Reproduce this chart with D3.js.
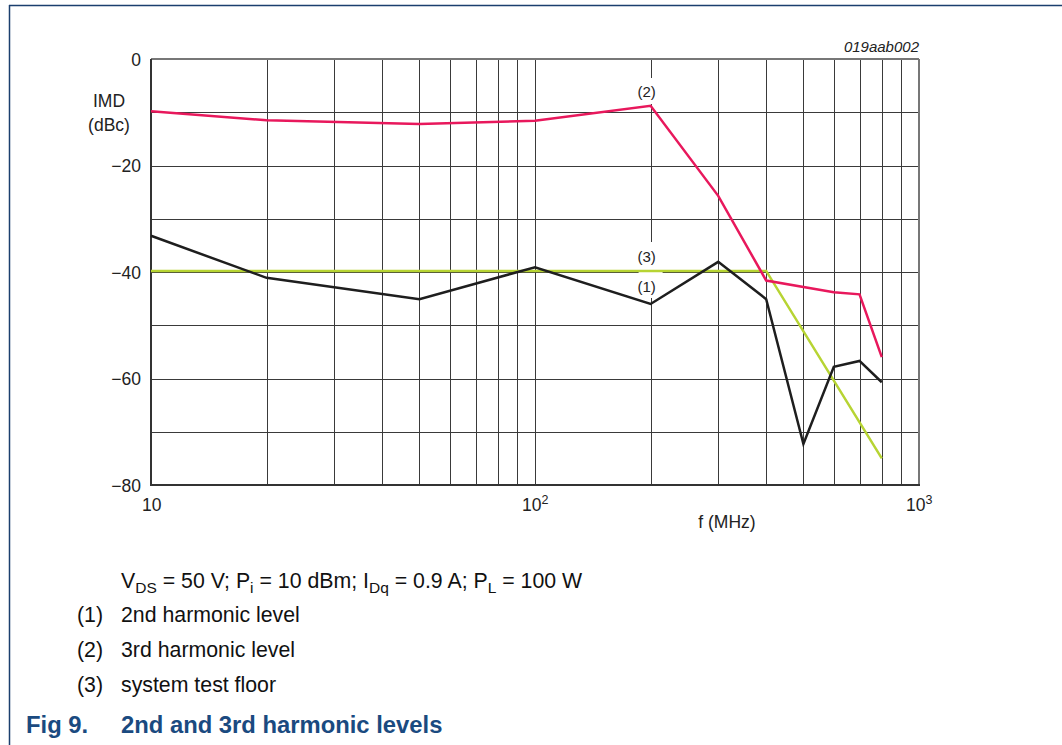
<!DOCTYPE html>
<html>
<head>
<meta charset="utf-8">
<script src="https://cdn.jsdelivr.net/npm/d3@7"></script>
<style>
  html, body { margin: 0; padding: 0; background: #fff; }
  svg { display: block; font-family: "Liberation Sans", Arial, sans-serif; }
</style>
</head>
<body>
<svg id="chart" width="1062" height="745"></svg>
<script>
// Frequency points (MHz) and levels (dBc) for each trace
const freq2nd = [10, 20, 50, 100, 200, 300, 400, 500, 600, 700, 800];
const level2nd = [-33.2, -41.1, -45.1, -39.1, -46.0, -38.1, -45.1, -72.3, -57.8, -56.7, -60.7];

const freq3rd = [10, 20, 50, 100, 200, 300, 400, 600, 700, 800];
const level3rd = [-9.8, -11.5, -12.2, -11.6, -8.8, -25.7, -41.6, -43.8, -44.2, -56.0];

const freqFloor = [10, 400, 800];
const levelFloor = [-39.8, -39.8, -75.0];

// Axis ticks
const yTicks = [0, -20, -40, -60, -80];
const yGrid = [0, -10, -20, -30, -40, -50, -60, -70, -80];
const xGrid = [10, 20, 30, 40, 50, 60, 70, 80, 90, 100, 200, 300, 400, 500, 600, 700, 800, 900, 1000];
const xDecades = [{ v: 10, base: "10", exp: "" }, { v: 100, base: "10", exp: "2" }, { v: 1000, base: "10", exp: "3" }];

// Curve labels
const curveLabels = [
  { text: "(2)", f: 200, ty: 97 },
  { text: "(3)", f: 200, ty: 262 },
  { text: "(1)", f: 200, ty: 292 }
];

const notes = [
  { num: "(1)", text: "2nd harmonic level" },
  { num: "(2)", text: "3rd harmonic level" },
  { num: "(3)", text: "system test floor" }
];

const svg = d3.select("#chart");
const x = d3.scaleLog().domain([10, 1000]).range([151, 919]);
const y = d3.scaleLinear().domain([-80, 0]).range([485, 59]);

const frameBlue = "#1b3f6e";
// Figure frame: top and left rules
svg.append("line").attr("x1", 9).attr("x2", 1062).attr("y1", 5.5).attr("y2", 5.5)
  .attr("stroke", frameBlue).attr("stroke-width", 1.5);
svg.append("line").attr("x1", 9.5).attr("x2", 9.5).attr("y1", 5).attr("y2", 745)
  .attr("stroke", frameBlue).attr("stroke-width", 1.5);

// Grid via axes
const gx = svg.append("g").attr("transform", "translate(0,485)")
  .call(d3.axisBottom(x).tickValues(xGrid).tickSize(-(485 - 59)).tickFormat(""));
gx.select(".domain").remove();
gx.selectAll("line").attr("stroke", "#3a3a3a").attr("stroke-width", 1)
  .attr("shape-rendering", "crispEdges");

const gy = svg.append("g").attr("transform", "translate(151,0)")
  .call(d3.axisLeft(y).tickValues(yGrid).tickSize(-(919 - 151)).tickFormat(""));
gy.select(".domain").remove();
gy.selectAll("line").attr("stroke", "#3a3a3a").attr("stroke-width", 1)
  .attr("shape-rendering", "crispEdges");

// Plot frame
svg.append("line").attr("x1", 919).attr("x2", 919).attr("y1", 59).attr("y2", 485)
  .attr("stroke", "#777").attr("stroke-width", 2);
svg.append("line").attr("x1", 151).attr("x2", 919).attr("y1", 59).attr("y2", 59)
  .attr("stroke", "#777").attr("stroke-width", 2);
svg.append("line").attr("x1", 151).attr("x2", 151).attr("y1", 59).attr("y2", 486)
  .attr("stroke", "#333").attr("stroke-width", 2);
svg.append("line").attr("x1", 150).attr("x2", 920).attr("y1", 485).attr("y2", 485)
  .attr("stroke", "#333").attr("stroke-width", 2);

// Y tick labels
svg.append("g").selectAll("text").data(yTicks).join("text")
  .attr("x", 141).attr("y", d => y(d) + 6.5)
  .attr("text-anchor", "end").attr("font-size", 17.5).attr("fill", "#222")
  .text(d => d === 0 ? "0" : "\u2212" + Math.abs(d));

// Y axis title
svg.append("text").attr("x", 109).attr("y", 107).attr("text-anchor", "middle")
  .attr("font-size", 17.5).attr("fill", "#222").text("IMD");
svg.append("text").attr("x", 109).attr("y", 131).attr("text-anchor", "middle")
  .attr("font-size", 17.5).attr("fill", "#222").text("(dBc)");

// X decade labels
const xl = svg.append("g").selectAll("text").data(xDecades).join("text")
  .attr("x", d => x(d.v) - (d.exp ? 13 : 9)).attr("y", 511)
  .attr("font-size", 17.5).attr("fill", "#222");
xl.append("tspan").text(d => d.base);
xl.append("tspan").attr("font-size", 12.5).attr("dy", -7).text(d => d.exp);

svg.append("text").attr("x", 727).attr("y", 528).attr("text-anchor", "middle")
  .attr("font-size", 17.5).attr("fill", "#222").text("f (MHz)");

svg.append("text").attr("x", 919).attr("y", 52).attr("text-anchor", "end")
  .attr("font-size", 15).attr("font-style", "italic").attr("fill", "#222").text("019aab002");

// Label backgrounds breaking the grid
svg.append("rect").attr("x", x(200) - 12).attr("y", 78).attr("width", 24).attr("height", 26).attr("fill", "#fff");
svg.append("rect").attr("x", x(200) - 12).attr("y", 242).attr("width", 24).attr("height", 56).attr("fill", "#fff");

// Traces
const line = d3.line().x(d => x(d[0])).y(d => y(d[1]));
const traces = [
  { f: freqFloor, v: levelFloor, color: "#b7d433" },
  { f: freq2nd, v: level2nd, color: "#1e1e1e" },
  { f: freq3rd, v: level3rd, color: "#e8185c" }
];
svg.append("g").selectAll("path").data(traces).join("path")
  .attr("d", t => line(d3.zip(t.f, t.v)))
  .attr("fill", "none").attr("stroke", t => t.color)
  .attr("stroke-width", 2.5).attr("stroke-linejoin", "miter");

// Curve labels
svg.append("g").selectAll("text").data(curveLabels).join("text")
  .attr("x", d => x(d.f) - 4).attr("y", d => d.ty)
  .attr("text-anchor", "middle").attr("font-size", 15).attr("fill", "#222")
  .text(d => d.text);

// Footnotes
const noteSize = 21.3;
const cond = svg.append("text").attr("x", 121).attr("y", 588).attr("font-size", noteSize).attr("fill", "#111");
const parts = [
  ["V", 0], ["DS", 1], [" = 50 V; P", 0], ["i", 1], [" = 10 dBm; I", 0], ["Dq", 1],
  [" = 0.9 A; P", 0], ["L", 1], [" = 100 W", 0]
];
let sub = false;
parts.forEach(([t, s]) => {
  const ts = cond.append("tspan").text(t);
  if (s && !sub) { ts.attr("font-size", 15.5).attr("dy", 5); sub = true; }
  else if (!s && sub) { ts.attr("dy", -5); sub = false; }
});

const ng = svg.append("g").selectAll("g").data(notes).join("g");
ng.append("text").attr("x", 77).attr("y", (d, i) => 622 + i * 35)
  .attr("font-size", noteSize).attr("fill", "#111").text(d => d.num);
ng.append("text").attr("x", 121).attr("y", (d, i) => 622 + i * 35)
  .attr("font-size", noteSize).attr("fill", "#111").text(d => d.text);

// Figure title
svg.append("text").attr("x", 26).attr("y", 733).attr("font-size", 23.8).attr("font-weight", "bold")
  .attr("fill", "#1a4a80").text("Fig 9.");
svg.append("text").attr("x", 121).attr("y", 733).attr("font-size", 23.8).attr("font-weight", "bold")
  .attr("fill", "#1a4a80").text("2nd and 3rd harmonic levels");
</script>
</body>
</html>
